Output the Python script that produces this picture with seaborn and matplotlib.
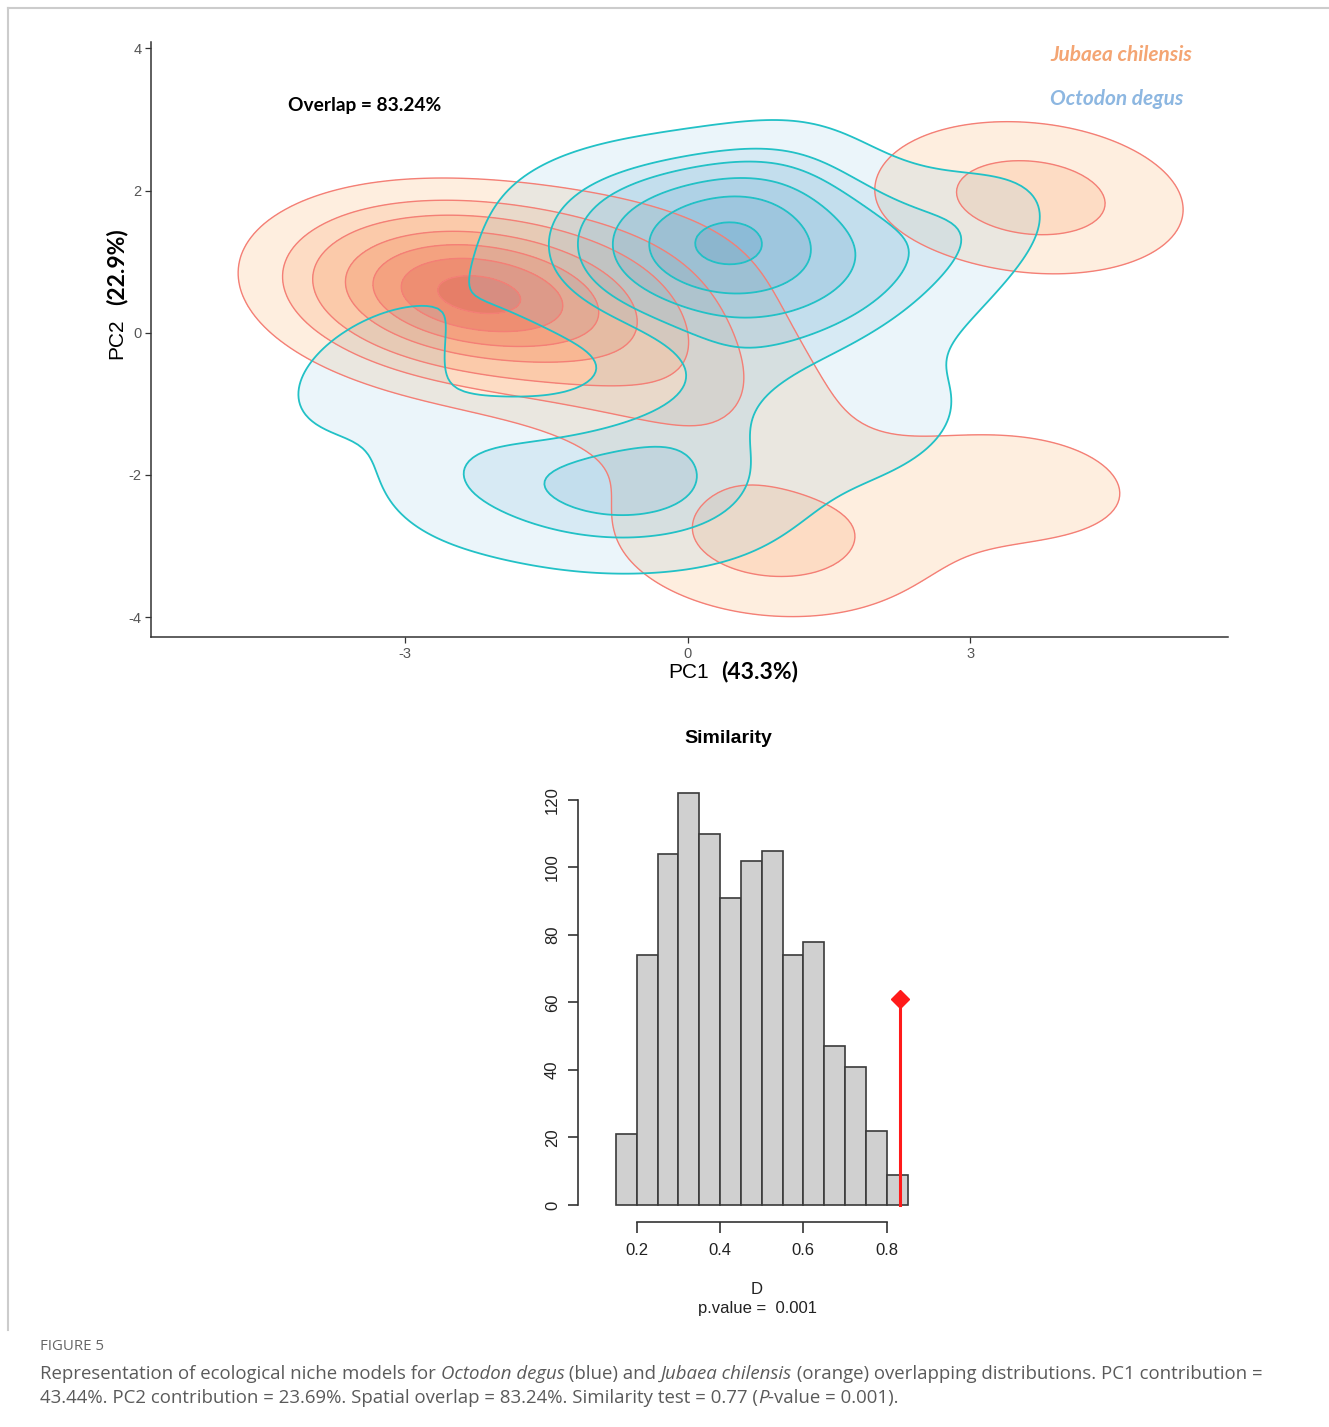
import numpy as np
import pandas as pd
import matplotlib
matplotlib.use("Agg")
import matplotlib.pyplot as plt
from matplotlib.lines import Line2D
import seaborn as sns

# ---- niche space: weighted occurrence scores on PC1 / PC2 ----
jubaea_pc1 = [-2.45, -0.8, 0.1, -0.3, 0.85, 3.6, 3.65]
jubaea_pc2 = [0.6, 0.05, -1.0, 1.25, -2.95, -2.15, 1.9]
jubaea_w = [2.7, 0.7, 0.58, 0.3, 1.0, 0.6, 1.05]

octodon_pc1 = [-2.0, -1.2, -0.4, 0.4, 1.2, 2.0, 2.8,
               -2.0, -1.2, -0.4, 0.4, 1.2, 2.0, 2.8,
               0.9, 3.2,
               -2.3, -1.5, -0.7, 0.1, 0.9,
               -2.3, -1.5, -0.7, 0.1, 0.9,
               -3.5, -3.0, -2.7, 2.15, 1.5, 0.05, 0.75]
octodon_pc2 = [2.06, 1.94, 1.82, 1.70, 1.58, 1.46, 1.34,
               1.06, 0.94, 0.82, 0.70, 0.58, 0.46, 0.34,
               2.35, 1.55,
               -1.66, -1.76, -1.85, -1.95, -2.05,
               -2.36, -2.46, -2.55, -2.65, -2.75,
               -0.7, 0.3, -1.7, -1.3, -0.35, -0.7, -0.85]
octodon_w = [0.06, 0.175, 0.35, 0.45, 0.35, 0.21, 0.10,
             0.06, 0.175, 0.35, 0.45, 0.35, 0.21, 0.10,
             0.15, 0.2,
             0.13, 0.175, 0.22, 0.175, 0.09,
             0.13, 0.175, 0.22, 0.175, 0.09,
             0.3, 0.1, 0.15, 0.3, 0.08, 0.2, 0.18]

overlap_pct = 83.24
pc1_var = 43.3
pc2_var = 22.9

# ---- similarity test: null distribution of Schoener's D ----
bin_edges = [0.15, 0.20, 0.25, 0.30, 0.35, 0.40, 0.45, 0.50,
             0.55, 0.60, 0.65, 0.70, 0.75, 0.80, 0.85]
bin_counts = [21, 74, 104, 122, 110, 91, 102, 105, 74, 78, 47, 41, 22, 9]
obs_D = 0.8324
obs_height = 61
p_value = 0.001

# contour styling
jub_levels = [0.21, 0.50, 0.66, 0.76, 0.84, 0.91, 0.975]
oct_levels = [0.14, 0.45, 0.64, 0.79, 0.89, 0.978]
jub_fill = ["#FEEEDF", "#FDDCC4", "#FBCAAA", "#F8B793", "#F4A280", "#EE8E72", "#E67E68"]
oct_fill = [(155/255, 205/255, 230/255, 0.20), (144/255, 197/255, 227/255, 0.36),
            (133/255, 188/255, 220/255, 0.49), (119/255, 179/255, 213/255, 0.59),
            (110/255, 170/255, 206/255, 0.67), (100/255, 163/255, 201/255, 0.74)]

jub_df = pd.DataFrame({"PC1": jubaea_pc1, "PC2": jubaea_pc2, "w": jubaea_w})
oct_df = pd.DataFrame({"PC1": octodon_pc1, "PC2": octodon_pc2, "w": octodon_w})
hist_df = pd.DataFrame({"D": bin_edges[:-1], "n": bin_counts})

plt.rcParams["axes.unicode_minus"] = False

W, H = 1329, 1427


def fx(px):
    return px / W


def fy(py):
    return 1 - py / H


fig = plt.figure(figsize=(W / 100, H / 100), dpi=100)

# ---------------- top panel: niche overlap ----------------
ax = fig.add_axes([fx(151), fy(637), fx(1228) - fx(151), fy(42) - fy(637)])

kde_j = dict(data=jub_df, x="PC1", y="PC2", weights="w", bw_method=0.45, ax=ax)
kde_o = dict(data=oct_df, x="PC1", y="PC2", weights="w", bw_method=0.42, ax=ax)
sns.kdeplot(**kde_j, fill=True, levels=jub_levels + [1.0], color="#F4A280", colors=jub_fill)
sns.kdeplot(**kde_j, levels=jub_levels, color="#F47F76", colors=["#F47F76"], linewidths=1.0)
sns.kdeplot(**kde_o, fill=True, levels=oct_levels + [1.0], color="#8DB7E1", colors=oct_fill)
sns.kdeplot(**kde_o, levels=oct_levels, color="#22C1C6", colors=["#22C1C6"], linewidths=1.3)

ax.set_xlim(-5.70, 5.74)
ax.set_ylim(-4.28, 4.09)
ax.set_xticks([-3, 0, 3])
ax.set_yticks([-4, -2, 0, 2, 4])
ax.set_xlabel("")
ax.set_ylabel("")
for s in ["top", "right"]:
    ax.spines[s].set_visible(False)
for s in ["left", "bottom"]:
    ax.spines[s].set_color("#333333")
    ax.spines[s].set_linewidth(1.1)
ax.tick_params(length=4, width=0.9, color="#333333", labelcolor="#555555",
               labelsize=10.5, pad=3)
for lab in ax.get_xticklabels() + ax.get_yticklabels():
    lab.set_fontfamily("Liberation Sans")

ax.text(-4.25, 3.2, f"Overlap = {overlap_pct:.2f}%", fontsize=13.8, fontweight="bold",
        family="Lato", va="center", ha="left", color="black")
fig.text(fx(1050), fy(55), "Jubaea chilensis", color="#F4A573", fontsize=15,
         family="Lato", style="italic", fontweight="bold", va="center")
fig.text(fx(1050), fy(99), "Octodon degus", color="#8DB7E1", fontsize=15,
         family="Lato", style="italic", fontweight="bold", va="center")

fig.text(fx(689), fy(672), "PC1", fontsize=15, family="Liberation Sans",
         ha="center", va="center")
fig.text(fx(760), fy(672), f"({pc1_var}%)", fontsize=16.5, family="Lato",
         fontweight="bold", ha="center", va="center")
fig.text(fx(117), fy(339), "PC2", fontsize=15, family="Liberation Sans",
         ha="center", va="center", rotation=90)
fig.text(fx(117), fy(267), f"({pc2_var}%)", fontsize=16.5, family="Lato",
         fontweight="bold", ha="center", va="center", rotation=90)

# ---------------- bottom panel: similarity histogram ----------------
ax2 = fig.add_axes([fx(578), fy(1221.7), fx(940) - fx(578), fy(780) - fy(1221.7)])
sns.histplot(data=hist_df, x="D", weights="n", bins=bin_edges, color="#D0D0D0",
             edgecolor="#3A3A3A", linewidth=1.2, alpha=1, ax=ax2)
ax2.plot([obs_D, obs_D], [0, obs_height], color="#FF1A1A", lw=2.2)
ax2.plot([obs_D], [obs_height], marker="D", color="#FF1A1A", ms=9, mec="#FF1A1A")

ax2.set_xlim(0.059, 0.928)
ax2.set_ylim(-4.95, 125.9)
ax2.set_xticks([0.2, 0.4, 0.6, 0.8])
ax2.set_yticks([0, 20, 40, 60, 80, 100, 120])
ax2.set_xlabel("")
ax2.set_ylabel("")
for s in ["top", "right"]:
    ax2.spines[s].set_visible(False)
ax2.spines["left"].set_bounds(0, 120)
ax2.spines["bottom"].set_bounds(0.2, 0.8)
for s in ["left", "bottom"]:
    ax2.spines[s].set_color("#333333")
    ax2.spines[s].set_linewidth(1.2)
ax2.tick_params(axis="x", length=8, width=1.2, color="#333333", labelsize=12, pad=7)
ax2.tick_params(axis="y", length=7, width=1.2, color="#333333", labelsize=12, pad=6)
for lab in ax2.get_yticklabels():
    lab.set_rotation(90)
    lab.set_va("center")
for lab in ax2.get_xticklabels() + ax2.get_yticklabels():
    lab.set_fontfamily("Liberation Sans")
    lab.set_color("#222222")

fig.text(fx(728), fy(738), "Similarity", fontsize=14, fontweight="bold",
         family="Liberation Sans", ha="center", va="center")
fig.text(fx(757), fy(1289), "D", fontsize=12, family="Liberation Sans",
         ha="center", va="center", color="#222222")
fig.text(fx(757), fy(1308), f"p.value =  {p_value}", fontsize=12,
         family="Liberation Sans", ha="center", va="center", color="#222222")

# ---------------- caption ----------------
fig.text(fx(40), fy(1347), "FIGURE 5", fontsize=10.8, family="Open Sans",
         color="#666666", va="center")

renderer = fig.canvas.get_renderer()


def rich_line(runs, x0, y0):
    x = x0
    for txt, style in runs:
        t = fig.text(x, y0, txt, fontsize=13.4, family="Open Sans", style=style,
                     color="#5A5A5A", va="center")
        x += t.get_window_extent(renderer=renderer).width / fig.bbox.width


rich_line([("Representation of ecological niche models for ", "normal"),
           ("Octodon degus", "italic"),
           (" (blue) and ", "normal"),
           ("Jubaea chilensis", "italic"),
           (" (orange) overlapping distributions. PC1 contribution =", "normal")],
          fx(40), fy(1374))
rich_line([("43.44%. PC2 contribution = 23.69%. Spatial overlap = 83.24%. "
            "Similarity test = 0.77 (", "normal"),
           ("P", "italic"),
           ("-value = 0.001).", "normal")],
          fx(40), fy(1398))

# thin frame around the figure panel
fig.add_artist(Line2D([fx(8), 1], [fy(8), fy(8)], color="#CCCCCC", lw=1.5))
fig.add_artist(Line2D([fx(8), fx(8)], [fy(8), fy(1330)], color="#CCCCCC", lw=1.5))

fig.savefig("out.png", dpi=100)
